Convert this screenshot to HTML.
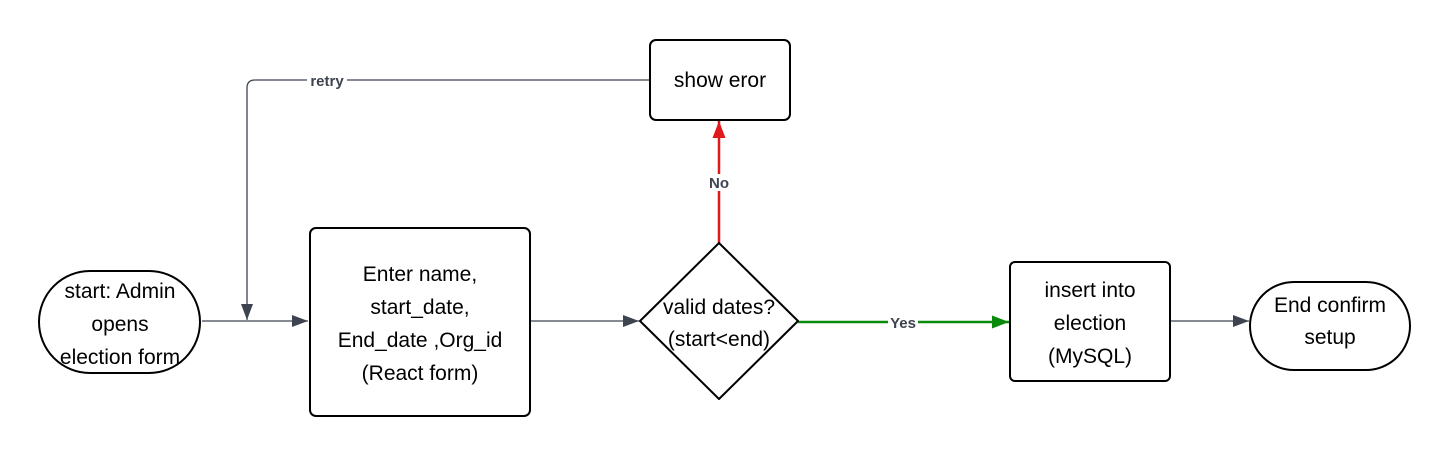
<!DOCTYPE html>
<html><head><meta charset="utf-8"><style>
body{margin:0;background:#fff;}
svg{display:block;font-family:"Liberation Sans",sans-serif;}
</style></head><body>
<svg width="1450" height="456" viewBox="0 0 1450 456" xmlns="http://www.w3.org/2000/svg">
<defs>
<marker id="agb" viewBox="0 0 10 10" refX="10" refY="5" markerWidth="16" markerHeight="12" markerUnits="userSpaceOnUse" orient="auto" preserveAspectRatio="none"><path d="M0,0L10,5L0,10z" fill="#3d4450"/></marker>
<marker id="ar" viewBox="0 0 10 10" refX="10" refY="5" markerWidth="17" markerHeight="13" markerUnits="userSpaceOnUse" orient="auto" preserveAspectRatio="none"><path d="M0,0L10,5L0,10z" fill="#e0191b"/></marker>
<marker id="agr" viewBox="0 0 10 10" refX="10" refY="5" markerWidth="17" markerHeight="13" markerUnits="userSpaceOnUse" orient="auto" preserveAspectRatio="none"><path d="M0,0L10,5L0,10z" fill="#0a8a0a"/></marker>
</defs>
<g fill="none" stroke="#3d4450" stroke-width="1.3">
<line x1="202" y1="321" x2="308" y2="321" marker-end="url(#agb)"/>
<path d="M650,80 H255 Q247,80 247,88 V320" marker-end="url(#agb)"/>
<line x1="530" y1="321" x2="639" y2="321" marker-end="url(#agb)"/>
<line x1="1170" y1="321" x2="1249" y2="321" marker-end="url(#agb)"/>
</g>
<line x1="719" y1="243" x2="719" y2="121" stroke="#e0191b" stroke-width="2.5" marker-end="url(#ar)"/>
<line x1="798" y1="322" x2="1009" y2="322" stroke="#0a8a0a" stroke-width="2.5" marker-end="url(#agr)"/>
<rect x="307" y="73" width="40" height="15" fill="#fff"/>
<text x="327" y="86" text-anchor="middle" font-size="15" font-weight="bold" fill="#3d4450">retry</text>
<rect x="707" y="174" width="24" height="17" fill="#fff"/>
<text x="719" y="188" text-anchor="middle" font-size="15" font-weight="bold" fill="#3d4450">No</text>
<rect x="888" y="315" width="30" height="15" fill="#fff"/>
<text x="903" y="328" text-anchor="middle" font-size="15" font-weight="bold" fill="#3d4450">Yes</text>
<g fill="#fff" stroke="#000" stroke-width="2">
<rect x="39" y="271" width="161" height="102" rx="51"/>
<rect x="310" y="228" width="220" height="188" rx="6"/>
<rect x="650" y="40" width="140" height="80" rx="6"/>
<path d="M719,243 L798,321 L719,399 L640,321 Z" stroke-linejoin="round"/>
<rect x="1010" y="262" width="160" height="119" rx="5"/>
<rect x="1250" y="282" width="160" height="88" rx="44"/>
</g>
<g font-size="21" fill="#000" text-anchor="middle">
<text x="120" y="298">start: Admin</text>
<text x="120" y="331">opens</text>
<text x="120" y="364">election form</text>
<text x="420" y="281">Enter name,</text>
<text x="420" y="314">start_date,</text>
<text x="420" y="347">End_date ,Org_id</text>
<text x="420" y="380">(React form)</text>
<text x="720" y="87">show eror</text>
<text x="719" y="314">valid dates?</text>
<text x="719" y="346">(start&lt;end)</text>
<text x="1090" y="297">insert into</text>
<text x="1090" y="330">election</text>
<text x="1090" y="363">(MySQL)</text>
<text x="1330" y="312">End confirm</text>
<text x="1330" y="344">setup</text>
</g>
</svg>
</body></html>
